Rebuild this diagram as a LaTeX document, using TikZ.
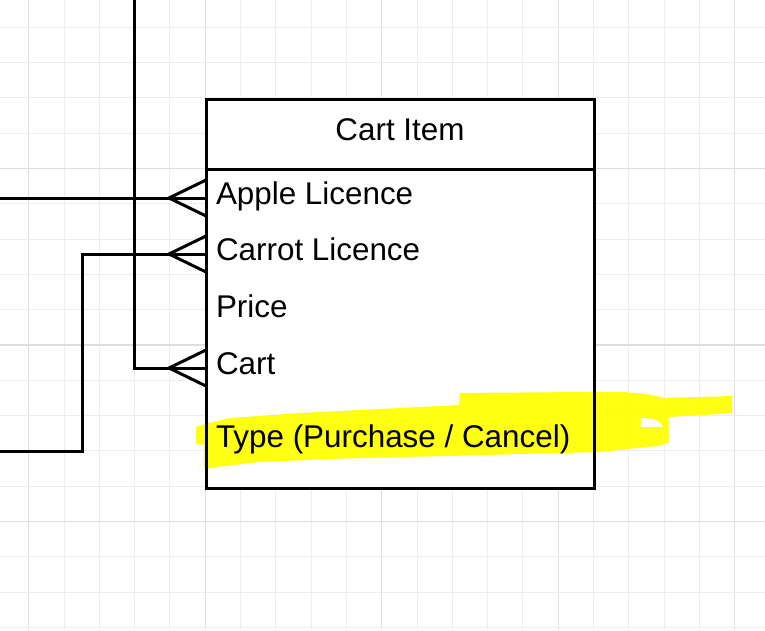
\documentclass[tikz,border=0pt]{standalone}
\usepackage{fontspec}
\setmainfont{Liberation Sans}
\usepackage{tikz}

\definecolor{gridminor}{HTML}{EDEDED}
\definecolor{gridmajor}{HTML}{DEDEDE}
\definecolor{marker}{HTML}{FFFF00}

\begin{document}
\begin{tikzpicture}[x=1pt,y=-1pt,line width=3pt,
	every node/.style={font=\fontsize{31.4}{36}\selectfont,inner sep=0pt,outer sep=0pt},
	field/.style={anchor=west,inner xsep=10pt,text height=22pt,text depth=10pt},
	minorline/.style={draw=gridminor,line width=1pt},
	majorline/.style={draw=gridmajor,line width=1.4pt}]
\useasboundingbox (0,0) rectangle (765,630);

%grid
\foreach \i in {0,...,20}{
	\pgfmathsetmacro{\gx}{28.7+35.3*\i}
	\pgfmathparse{Mod(\i,5)==0?1:0}
	\ifnum\pgfmathresult>0{
		\draw[majorline] (\gx,0) -- (\gx,630);}
	\else {\draw[minorline] (\gx,0) -- (\gx,630);}
	\fi}
\foreach \j in {1,...,18}{
	\pgfmathsetmacro{\gy}{-8+35.3*\j}
	\pgfmathparse{Mod(\j,5)==0?1:0}
	\ifnum\pgfmathresult>0{
		\draw[majorline] (0,\gy) -- (765,\gy);}
	\else {\draw[minorline] (0,\gy) -- (765,\gy);}
	\fi}

%entity
\node[fill=white,anchor=north west,minimum width=388pt,minimum height=389pt] (item) at (206,99) {};

%highlight
\fill[marker,opacity=0.92,even odd rule]
	(196,427) -- (205,424) -- (230,418) -- (300,413) -- (380,409) -- (459,405)
	-- (460,393) -- (580,392) -- (623,392) -- (647,394) -- (665,398) -- (700,397)
	-- (732,396) -- (732,413) -- (703,415) -- (669,417) -- (669,443) -- (657,446)
	-- (637,448) -- (600,452) -- (520,454) -- (450,456) -- (400,457) -- (330,459)
	-- (260,462) -- (225,466) -- (204,469) -- (204,445) -- (196,444) -- cycle
	(641,418) -- (655,419) -- (662,424) -- (662,427) -- (641,427) -- cycle;

\draw (item.north west) rectangle (item.south east);
\draw ([yshift=-70pt]item.north west) -- ([yshift=-70pt]item.north east);
\node (title) at (400,130) {Cart Item};

%attributes
\node[field] (apple) at (206,198) {Apple Licence};
\node[field] (carrot) at (206,254) {Carrot Licence};
\node[field] (price) at (206,311) {Price};
\node[field] (cart) at (206,368) {Cart};
\node[field] (type) at (206,441) {Type (Purchase / Cancel)};

%edges
\coordinate (appleend) at (0,198);
\coordinate (carrotend) at (0,451);
\coordinate (cartend) at (134,0);
\draw (appleend) -- (apple.west);
\draw (carrotend) -- ++(82,0) |- (carrot.west);
\draw (cartend) |- (cart.west);

%crow's feet
\foreach \f in {apple,carrot,cart}
	\draw ([yshift=18pt]\f.west) -- ([xshift=-37pt]\f.west) -- ([yshift=-18pt]\f.west);
\end{tikzpicture}
\end{document}
